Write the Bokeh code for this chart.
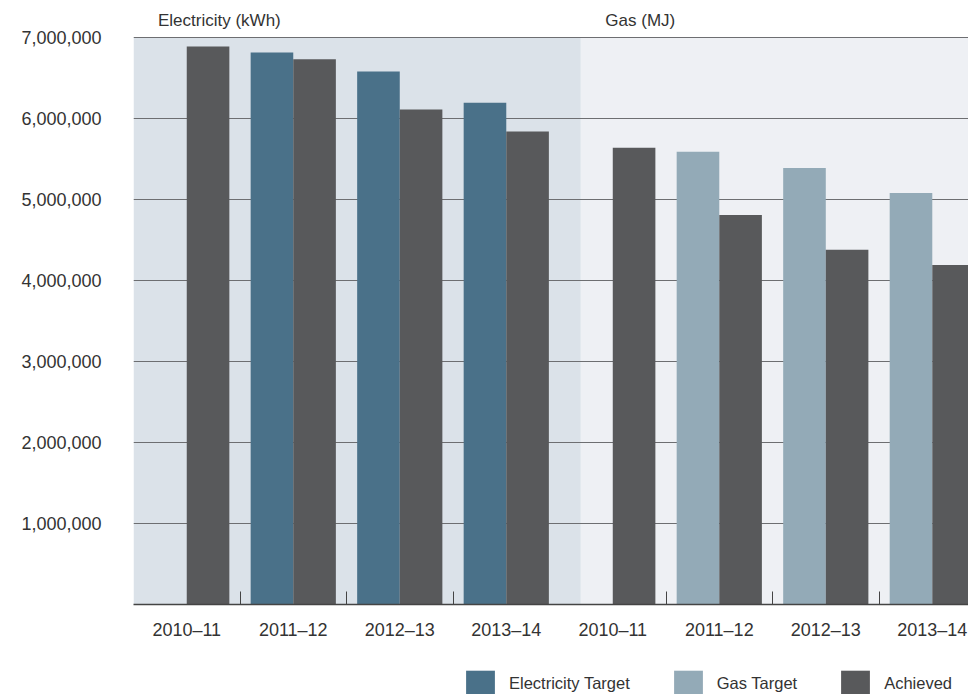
import numpy as np
from bokeh.plotting import figure
from bokeh.layouts import column
from bokeh.models import (FixedTicker, NumeralTickFormatter, Legend, LegendItem,
                          ColumnDataSource, Range1d)
from bokeh.core.properties import value
from bokeh.embed import file_html
from bokeh.resources import INLINE

# ---------------- data ----------------
years = ["2010–11", "2011–12", "2012–13", "2013–14"]
sections = ["Electricity (kWh)", "Gas (MJ)"]
elec_target = [np.nan, 6_815_000, 6_580_000, 6_195_000]
elec_achieved = [6_890_000, 6_730_000, 6_110_000, 5_840_000]
gas_target = [np.nan, 5_590_000, 5_390_000, 5_080_000]
gas_achieved = [5_640_000, 4_810_000, 4_380_000, 4_190_000]
y_ticks = [1_000_000, 2_000_000, 3_000_000, 4_000_000, 5_000_000, 6_000_000, 7_000_000]
legend_labels = ["Electricity Target", "Gas Target", "Achieved"]

# ---------------- styling ----------------
C_ELEC = "#4a7189"
C_GAS = "#93aab7"
C_ACH = "#58595b"
BG_ELEC = "#dbe2e9"
BG_GAS = "#eef0f4"
GRID = "#6d6e71"
TXT = "#333333"
FONT = "Liberation Sans"

W = 968
MAIN_H = 660
LEG_H = 34
FRAME_H = 604

n = len(years)
centers_e = np.arange(n) + 0.5
centers_g = np.arange(n) + n + 0.5
bw = 0.4

y_max = y_ticks[-1]
x_end = 7.84
y_end = y_max * FRAME_H / 567

p = figure(width=W, height=MAIN_H, output_backend="svg", toolbar_location=None,
           x_range=Range1d(0, x_end), y_range=Range1d(0, y_end),
           min_border_left=133, min_border_right=0, min_border_top=0,
           min_border_bottom=MAIN_H - FRAME_H)
p.outline_line_color = None
p.background_fill_color = "white"

# section backgrounds
split = n + 0.2
p.quad(left=[0, split], right=[split, x_end], bottom=[0, 0], top=[y_max, y_max],
       fill_color=[BG_ELEC, BG_GAS], line_color=None, level="image")

# section headers
p.text(x=[0.23, split + 0.23], y=[y_max + 0.215 * 1_000_000] * 2, text=sections,
       text_font=value(FONT), text_font_size="17px", text_color=TXT,
       text_align="left", text_baseline="middle")

# bars
src_et = ColumnDataSource(dict(x=centers_e - bw / 2, top=elec_target))
src_gt = ColumnDataSource(dict(x=centers_g - bw / 2, top=gas_target))
src_a = ColumnDataSource(dict(x=np.concatenate([centers_e, centers_g]) + bw / 2,
                              top=elec_achieved + gas_achieved))
sources = [src_et, src_gt, src_a]
colors = [C_ELEC, C_GAS, C_ACH]
for src, col in zip(sources, colors):
    p.vbar(x="x", top="top", width=bw, bottom=0, source=src,
           fill_color=col, line_color=None)

# axes
xticks = list(np.concatenate([centers_e, centers_g]))
minor = [1, 2, 3, 5, 6, 7]
p.xaxis.ticker = FixedTicker(ticks=xticks, minor_ticks=minor)
p.xaxis.major_label_overrides = {float(t): lab for t, lab in zip(xticks, years + years)}
p.xaxis.major_tick_line_color = None
p.xaxis.major_tick_in = 0
p.xaxis.major_tick_out = 0
p.xaxis.minor_tick_in = 13
p.xaxis.minor_tick_out = 0
p.xaxis.minor_tick_line_color = "#444444"
p.xaxis.minor_tick_line_width = 1
p.xaxis.axis_line_color = "#444444"
p.xaxis.axis_line_width = 1.5
p.xaxis.major_label_standoff = 15
p.xaxis.major_label_text_font = FONT
p.xaxis.major_label_text_font_size = "18px"
p.xaxis.major_label_text_color = TXT

p.yaxis.ticker = FixedTicker(ticks=y_ticks)
p.yaxis.formatter = NumeralTickFormatter(format="0,0")
p.yaxis.axis_line_color = None
p.yaxis.major_tick_line_color = None
p.yaxis.major_tick_in = 0
p.yaxis.major_tick_out = 0
p.yaxis.minor_tick_line_color = None
p.yaxis.major_label_standoff = 32
p.yaxis.major_label_text_font = FONT
p.yaxis.major_label_text_font_size = "18px"
p.yaxis.major_label_text_color = TXT

p.xgrid.grid_line_color = None
p.ygrid.ticker = FixedTicker(ticks=y_ticks)
p.ygrid.grid_line_color = GRID
p.ygrid.grid_line_width = 1.2

# ---------------- legend strip ----------------
# Same series drawn in a strip whose ranges lie far away from the data, so only
# the legend swatches are visible there.
lg = figure(width=W, height=LEG_H, output_backend="svg", toolbar_location=None,
            x_axis_type=None, y_axis_type=None,
            x_range=Range1d(-1e4 - x_end, -1e4), y_range=Range1d(-2e9, -1e9),
            min_border_left=0, min_border_right=0, min_border_top=0,
            min_border_bottom=0)
lg.outline_line_color = None
lg.xgrid.grid_line_color = None
lg.ygrid.grid_line_color = None
swatches = [lg.vbar(x="x", top="top", width=bw, bottom=0, source=src,
                    fill_color=col, line_color=None)
            for src, col in zip(sources, colors)]

legend = Legend(items=[LegendItem(label=lab, renderers=[r])
                       for lab, r in zip(legend_labels, swatches)],
                orientation="horizontal", location=(329, -5),
                glyph_width=36, glyph_height=32, label_standoff=11, spacing=40,
                padding=0, margin=0, border_line_color=None,
                background_fill_alpha=0, label_text_font=FONT,
                label_text_font_size="16.5px", label_text_color=TXT,
                label_height=32)
lg.add_layout(legend, "center")

layout = column(p, lg, spacing=0)
open("out.html", "w").write(file_html(layout, INLINE))
